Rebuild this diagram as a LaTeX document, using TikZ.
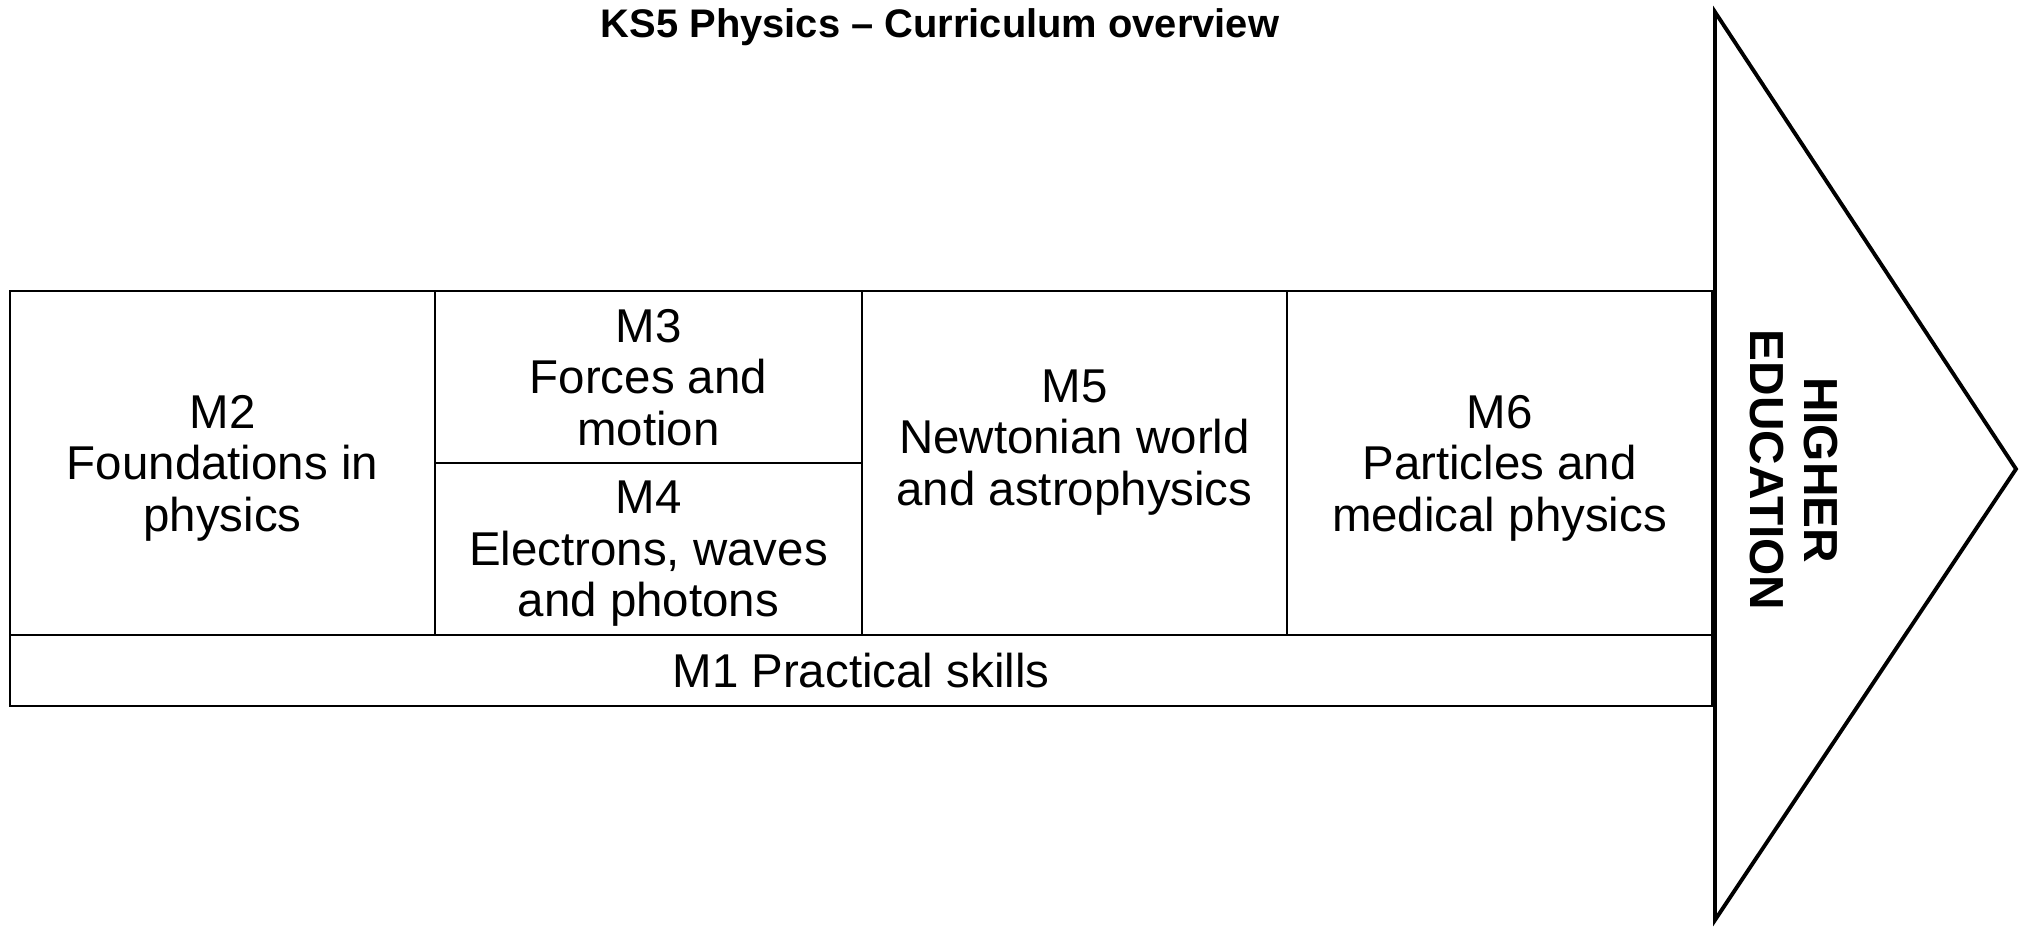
\documentclass[tikz,border=0pt]{standalone}
\usepackage{fontspec}
\setmainfont{Liberation Sans}
\usepackage{tikz}
\usetikzlibrary{positioning, calc}

\begin{document}
\begin{tikzpicture}[
  every node/.style={font=\fontsize{13.5}{14.65}\selectfont, text=black},
  cell/.style={
    rectangle, draw=black, line width=0.7pt,
    align=center, inner sep=0pt
  },
  module/.style={cell, text depth=0pt},
  arrowline/.style={draw=black, line width=1.1pt, line join=miter},
]
\useasboundingbox (0,0) rectangle (20.20,9.31);

% === TITLE ===
\node[font=\bfseries\fontsize{11.35}{13}\selectfont] (title) at (9.40,9.04) {KS5 Physics -- Curriculum overview};

% === MODULES ===
\node[module, minimum width=4.25cm, minimum height=3.44cm] (m2) at (2.225,4.68) {M2\\Foundations in\\physics};
\node[module, minimum width=4.27cm, minimum height=1.715cm] (m3) at (6.485,5.54) {M3\\Forces and\\motion};
\node[module, minimum width=4.27cm, minimum height=1.725cm] (m4) at (6.485,3.82) {M4\\Electrons, waves\\and photons};
\node[module, minimum width=4.25cm, minimum height=3.44cm] (m5) at (10.745,4.68) {M5\\Newtonian world\\and astrophysics\\\strut};
\node[module, minimum width=4.25cm, minimum height=3.44cm] (m6) at (14.995,4.68) {M6\\Particles and\\medical physics};

% Practical skills across the bottom
\node[cell, minimum width=17.02cm, minimum height=0.71cm] (m1) at (8.61,2.605) {M1 Practical skills};

% === HIGHER EDUCATION ===
\coordinate (he-top) at (17.15,9.19);
\coordinate (he-bot) at (17.15,0.11);
\coordinate (he-tip) at (20.16,4.62);
\draw[arrowline] (he-top) -- (he-tip) -- (he-bot) -- cycle;

\node[font=\bfseries\fontsize{13.6}{15.4}\selectfont, align=center, rotate=-90] (he) at (17.94,4.61) {HIGHER\\EDUCATION};

\end{tikzpicture}
\end{document}
